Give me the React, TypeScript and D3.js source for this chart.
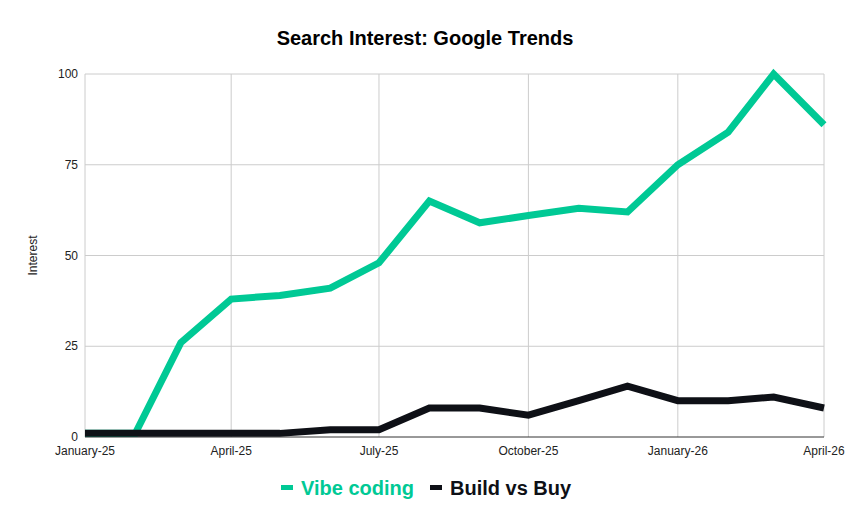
import { useEffect, useRef } from "react";
import * as d3 from "d3";

const months = [
  "2025-01-01", "2025-02-01", "2025-03-01", "2025-04-01", "2025-05-01", "2025-06-01",
  "2025-07-01", "2025-08-01", "2025-09-01", "2025-10-01", "2025-11-01", "2025-12-01",
  "2026-01-01", "2026-02-01", "2026-03-01", "2026-04-01",
];
const vibeCoding = [1, 1, 26, 38, 39, 41, 48, 65, 59, 61, 63, 62, 75, 84, 100, 86];
const buildVsBuy = [1, 1, 1, 1, 1, 2, 2, 8, 8, 6, 10, 14, 10, 10, 11, 8];
const yTicks = [0, 25, 50, 75, 100];
const xTickDates = ["2025-01-01", "2025-04-01", "2025-07-01", "2025-10-01", "2026-01-01", "2026-04-01"];
const xTickLabels = ["January-25", "April-25", "July-25", "October-25", "January-26", "April-26"];

const GREEN = "#00c995";
const BLACK = "#0e1016";

const App = () => {
  const svgRef = useRef<SVGSVGElement | null>(null);

  useEffect(() => {
    if (!svgRef.current) return;
    const svg = d3.select(svgRef.current);
    svg.selectAll("*").remove();

    const width = 851;
    const margin = { top: 74, right: 27, bottom: 89, left: 85 };
    const innerBottom = 437;
    const parse = d3.utcParse("%Y-%m-%d");
    const dates = months.map((m) => parse(m) as Date);

    const x = d3.scaleUtc()
      .domain([dates[0], dates[dates.length - 1]])
      .range([margin.left, width - margin.right]);
    const y = d3.scaleLinear().domain([0, 100]).range([innerBottom, margin.top]);

    const font = "Arial, 'Liberation Sans', sans-serif";

    svg.append("text")
      .attr("x", 425)
      .attr("y", 45)
      .attr("text-anchor", "middle")
      .attr("font-family", font)
      .attr("font-weight", "bold")
      .attr("font-size", 20)
      .attr("fill", "#000")
      .text("Search Interest: Google Trends");

    // horizontal grid
    svg.append("g")
      .selectAll("line")
      .data(yTicks.filter((t) => t > 0))
      .enter().append("line")
      .attr("x1", margin.left)
      .attr("x2", width - margin.right)
      .attr("y1", (d) => y(d))
      .attr("y2", (d) => y(d))
      .attr("stroke", "#cccccc")
      .attr("stroke-width", 1);

    // vertical grid
    svg.append("g")
      .selectAll("line")
      .data(xTickDates)
      .enter().append("line")
      .attr("x1", (d) => x(parse(d) as Date))
      .attr("x2", (d) => x(parse(d) as Date))
      .attr("y1", margin.top)
      .attr("y2", innerBottom)
      .attr("stroke", "#cccccc")
      .attr("stroke-width", 1);

    // baseline
    svg.append("line")
      .attr("x1", margin.left)
      .attr("x2", width - margin.right)
      .attr("y1", innerBottom)
      .attr("y2", innerBottom)
      .attr("stroke", "#333")
      .attr("stroke-width", 1);

    // y tick labels
    svg.append("g")
      .selectAll("text")
      .data(yTicks)
      .enter().append("text")
      .attr("x", margin.left - 7)
      .attr("y", (d) => y(d) + 4)
      .attr("text-anchor", "end")
      .attr("font-family", font)
      .attr("font-size", 12)
      .attr("fill", "#222")
      .text((d) => d);

    // x tick labels
    svg.append("g")
      .selectAll("text")
      .data(xTickDates)
      .enter().append("text")
      .attr("x", (d) => x(parse(d) as Date))
      .attr("y", innerBottom + 18)
      .attr("text-anchor", "middle")
      .attr("font-family", font)
      .attr("font-size", 12)
      .attr("fill", "#222")
      .text((_, i) => xTickLabels[i]);

    svg.append("text")
      .attr("transform", `translate(37,${(margin.top + innerBottom) / 2}) rotate(-90)`)
      .attr("text-anchor", "middle")
      .attr("font-family", font)
      .attr("font-size", 12)
      .attr("fill", "#222")
      .text("Interest");

    const line = d3.line<number>()
      .x((_, i) => x(dates[i]))
      .y((d) => y(d));

    const series = [
      { values: vibeCoding, color: GREEN },
      { values: buildVsBuy, color: BLACK },
    ];
    series.forEach((s) => {
      svg.append("path")
        .datum(s.values)
        .attr("d", line)
        .attr("fill", "none")
        .attr("stroke", s.color)
        .attr("stroke-width", 7)
        .attr("stroke-linejoin", "miter")
        .attr("stroke-linecap", "butt");
    });

    // legend
    const legend = [
      { label: "Vibe coding", color: GREEN, x: 281 },
      { label: "Build vs Buy", color: BLACK, x: 430 },
    ];
    const lg = svg.append("g");
    legend.forEach((l) => {
      lg.append("rect")
        .attr("x", l.x)
        .attr("y", 485)
        .attr("width", 12)
        .attr("height", 5)
        .attr("fill", l.color);
      lg.append("text")
        .attr("x", l.x + 20)
        .attr("y", 495)
        .attr("font-family", font)
        .attr("font-weight", "bold")
        .attr("font-size", 20)
        .attr("fill", l.color)
        .text(l.label);
    });
  }, []);

  return (
    <svg
      ref={svgRef}
      width={851}
      height={526}
      style={{ position: "absolute", left: 0, top: 0, background: "#fff" }}
    />
  );
};

export default App;
